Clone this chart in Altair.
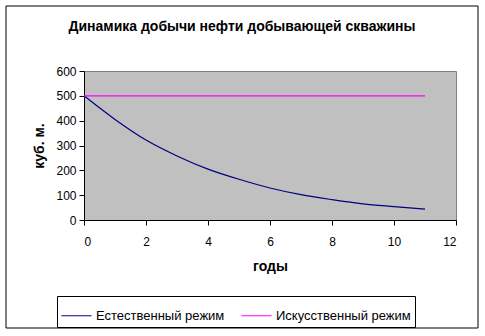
import altair as alt
import pandas as pd

years = list(range(12))
natural = [500, 405, 322, 258, 205, 164, 129, 102, 82, 65, 54, 44]
artificial = [500] * 12
series_names = ["Естественный режим", "Искусственный режим"]
series_colors = ["#000080", "#FF00FF"]

rows = []
for i, y in enumerate(years):
    rows.append({"год": y, "значение": natural[i], "режим": series_names[0]})
for i, y in enumerate(years):
    rows.append({"год": y, "значение": artificial[i], "режим": series_names[1]})
df = pd.DataFrame(rows)

FONT = "Liberation Sans"

lines = alt.Chart(df).mark_line(strokeWidth=1.2, interpolate="monotone").encode(
    x=alt.X("год:Q", scale=alt.Scale(domain=[0, 12], nice=False),
            axis=alt.Axis(title="годы", values=[0, 2, 4, 6, 8, 10, 12], grid=False,
                          tickSize=5, labelPadding=11, titlePadding=12)),
    y=alt.Y("значение:Q", scale=alt.Scale(domain=[0, 600], nice=False),
            axis=alt.Axis(title="куб. м.", values=[0, 100, 200, 300, 400, 500, 600], grid=False,
                          tickSize=5, labelPadding=3, titlePadding=9)),
    color=alt.Color("режим:N", scale=alt.Scale(domain=series_names, range=series_colors),
                    legend=alt.Legend(title=None, orient="none", legendX=-27, legendY=225,
                                      direction="horizontal", symbolType="stroke",
                                      symbolSize=900, symbolStrokeWidth=1,
                                      strokeColor="black", fillColor="white",
                                      padding=4, columnPadding=14, labelFontSize=13,
                                      labelFont=FONT, labelColor="black", labelLimit=300)),
)

border = alt.Chart(alt.Data(values=[{"a": 1}])).mark_rect(
    fill="transparent", stroke="black", strokeWidth=1
).encode(
    x=alt.value(-78), x2=alt.value(394), y=alt.value(-65), y2=alt.value(257)
)

chart = alt.layer(border, lines).properties(
    width=372, height=149,
    title=alt.TitleParams("Динамика добычи нефти добывающей скважины",
                          font=FONT, fontSize=14, fontWeight="bold", color="black",
                          dx=-28, offset=-28),
    autosize=alt.AutoSizeParams(type="none"),
    padding={"left": 84, "top": 71, "right": 29, "bottom": 116},
    background="white",
).configure_view(
    fill="#C0C0C0", stroke="#808080", strokeWidth=1
).configure_axis(
    labelFont=FONT, labelFontSize=12, labelColor="black",
    titleFont=FONT, titleFontSize=14, titleFontWeight="bold", titleColor="black",
    domainColor="black", tickColor="black", domainWidth=1, tickWidth=1,
)

chart.save("out.html", embed_options={"renderer": "svg", "actions": False})
